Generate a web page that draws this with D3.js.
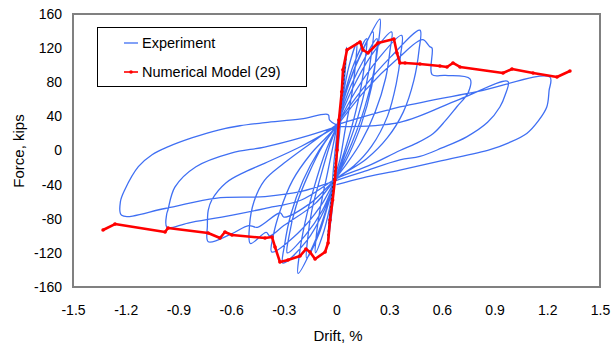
<!DOCTYPE html>
<html>
<head>
<meta charset="utf-8">
<script src="https://cdn.jsdelivr.net/npm/d3@7"></script>
<style>
  body { margin: 0; background: #fff; }
  text { font-family: "Liberation Sans", Arial, sans-serif; fill: #000; }
</style>
</head>
<body>
<svg id="chart" width="614" height="348"></svg>
<script>
// tick labels
const driftTicks = [-1.5, -1.2, -0.9, -0.6, -0.3, 0, 0.3, 0.6, 0.9, 1.2, 1.5];
const forceTicks = [-160, -120, -80, -40, 0, 40, 80, 120, 160];

// numerical model (29) envelope
const modelDrift = [-1.329, -1.261, -0.976, -0.959, -0.731, -0.663, -0.635, -0.595, -0.407, -0.367,
  -0.350, -0.322, -0.276, -0.208, -0.174, -0.151, -0.122, -0.065, -0.048, -0.037, -0.022, -0.009,
  0.003, 0.014, 0.030, 0.037, 0.060, 0.134, 0.151, 0.179, 0.236, 0.327, 0.344, 0.361, 0.390, 0.475,
  0.589, 0.629, 0.663, 0.703, 0.948, 0.999, 1.119, 1.255, 1.329];
const modelForce = [-93.2, -86.2, -95.5, -90.8, -96.7, -102.6, -95.5, -99.1, -102.6, -101.4,
  -113.1, -130.7, -128.4, -123.7, -115.5, -119.0, -127.2, -119.0, -108.4, -81.5, -58.0, -34.6,
  0.6, 35.8, 68.9, 94.6, 118.0, 127.2, 117.8, 114.3, 126.0, 130.7, 114.3, 102.6, 102.6, 101.4,
  99.1, 97.9, 102.6, 97.9, 90.8, 95.5, 90.8, 86.2, 93.2];

// experiment, one array of [drift, force] per cycle
const cycle1 = [[0, 0], [0.02, 45], [0.04, 90], [0.058, 121], [0.052, 100], [0.035, 60], [0.015, 15], [-0.01, -32],
  [-0.025, -70], [-0.04, -95], [-0.05, -110], [-0.045, -90], [-0.03, -55], [-0.015, -15], [0.0, 15]];
const cycle2 = [[0.0, 15], [0.03, 55], [0.07, 98], [0.115, 126], [0.11, 105], [0.09, 70], [0.05, 25], [0.02, -10],
  [-0.01, -32], [-0.04, -68], [-0.08, -100], [-0.12, -120], [-0.115, -100], [-0.09, -65], [-0.05, -25],
  [-0.02, 5], [0.0, 26]];
const cycle3 = [[0.0, 26], [0.04, 62], [0.1, 102], [0.172, 131], [0.165, 110], [0.14, 75], [0.1, 38], [0.05, 2],
  [0.0, -30], [-0.05, -65], [-0.1, -98], [-0.17, -126], [-0.165, -105], [-0.14, -70], [-0.09, -30],
  [-0.04, 5], [0.0, 27]];
const cycle4 = [[0.0, 27], [0.06, 72], [0.13, 110], [0.208, 139], [0.2, 115], [0.17, 78], [0.12, 38], [0.06, 2],
  [0.0, -31], [-0.06, -70], [-0.13, -110], [-0.219, -144], [-0.21, -120], [-0.18, -85], [-0.13, -45],
  [-0.06, 0], [0.0, 27]];
const cycle5 = [[0.0, 27], [0.07, 78], [0.16, 122], [0.247, 154], [0.24, 128], [0.21, 90], [0.16, 50], [0.09, 10],
  [0.0, -32], [-0.07, -70], [-0.17, -106], [-0.305, -132], [-0.295, -110], [-0.26, -75], [-0.19, -35],
  [-0.1, 0], [0.0, 28]];
const cycle6 = [[0.0, 28], [0.08, 75], [0.17, 112], [0.23, 131], [0.225, 110], [0.2, 75], [0.14, 30], [0.07, -5],
  [0.0, -32], [-0.08, -70], [-0.18, -100], [-0.28, -120], [-0.27, -100], [-0.23, -65], [-0.16, -28],
  [-0.08, 5], [0.0, 28]];
const cycle7 = [[0.0, 28], [0.09, 72], [0.2, 112], [0.314, 139], [0.305, 118], [0.28, 85], [0.22, 45], [0.14, 10],
  [0.06, -15], [0.0, -32], [-0.09, -65], [-0.22, -97], [-0.369, -119], [-0.36, -100], [-0.32, -70],
  [-0.25, -35], [-0.15, -5], [-0.06, 15], [0.0, 28]];
const cycle8 = [[0.0, 28], [0.11, 70], [0.24, 108], [0.371, 135], [0.365, 112], [0.34, 78], [0.29, 40], [0.2, 5],
  [0.1, -18], [0.0, -33], [-0.12, -62], [-0.3, -88], [-0.38, -100], [-0.4, -96], [-0.49, -109],
  [-0.495, -88], [-0.47, -60], [-0.41, -35], [-0.3, -15], [-0.15, 8], [0.0, 30]];
const cycle9 = [[0.0, 30], [0.14, 70], [0.31, 110], [0.475, 141], [0.47, 118], [0.44, 82], [0.38, 45], [0.29, 15],
  [0.17, -10], [0.0, -33], [-0.15, -62], [-0.3, -78], [-0.32, -73], [-0.45, -90], [-0.5, -88], [-0.6, -98],
  [-0.73, -107], [-0.735, -88], [-0.73, -70], [-0.71, -58], [-0.63, -38], [-0.52, -25], [-0.41, -15],
  [-0.2, 5], [0.0, 28]];
const cycle10 = [[0.0, 28], [0.17, 72], [0.35, 108], [0.49, 130], [0.53, 122], [0.544, 120], [0.544, 89],
  [0.62, 88], [0.76, 84], [0.75, 68], [0.684, 51], [0.62, 35], [0.551, 20], [0.45, 8], [0.361, 0],
  [0.18, -18], [0.0, -33], [-0.2, -58], [-0.41, -68], [-0.6, -76], [-0.845, -85], [-0.965, -90],
  [-0.967, -75], [-0.96, -70], [-0.92, -43], [-0.8, -19], [-0.6, -3], [-0.41, 4], [-0.2, 15], [0.0, 28]];
const cycle11 = [[0.0, 28], [0.36, 33], [0.7, 60], [0.976, 81], [0.96, 65], [0.93, 51], [0.86, 33], [0.741, 16],
  [0.6, 3], [0.475, -7], [0.361, -11], [0.15, -25], [0.0, -35], [-0.2, -48], [-0.407, -54], [-0.69, -56],
  [-0.976, -68], [-1.223, -76], [-1.23, -60], [-1.205, -46], [-1.128, -19], [-1.05, -5], [-0.957, 4.5],
  [-0.82, 15], [-0.673, 24], [-0.55, 29], [-0.407, 32.6], [-0.2, 37], [-0.047, 42], [-0.04, 36], [0.0, 30]];
const cycle12 = [[0.0, 30], [0.361, 51], [0.8, 69], [1.215, 86], [1.21, 70], [1.197, 51], [1.15, 35], [1.083, 20],
  [0.98, 9], [0.874, 1], [0.6, -12], [0.361, -23], [0.15, -32], [0.0, -40]];

// early elastic trace, mostly hidden under the model line
const elasticTrace = [[-0.05, -100], [-0.03, -60], [0.0, 0], [0.03, 60], [0.06, 120]];

const experiment = [].concat(cycle1, cycle2, cycle3, cycle4, cycle5, cycle6, cycle7, cycle8,
  cycle9, cycle10, cycle11, cycle12);
const model = modelDrift.map((d, i) => [d, modelForce[i]]);

const margin = { top: 14, right: 14, bottom: 61, left: 73 };
const width = 614 - margin.left - margin.right;
const height = 348 - margin.top - margin.bottom;

const svg = d3.select("#chart");
const g = svg.append("g").attr("transform", "translate(" + margin.left + "," + margin.top + ")");

const x = d3.scaleLinear().domain([-1.5, 1.5]).range([0, width]);
const y = d3.scaleLinear().domain([-160, 160]).range([height, 0]);

g.append("clipPath").attr("id", "plot-clip")
  .append("rect").attr("width", width).attr("height", height);

// axes (labels only, border drawn separately)
const xAxis = g.append("g")
  .attr("transform", "translate(0," + height + ")")
  .call(d3.axisBottom(x).tickValues(driftTicks).tickSize(0).tickPadding(18)
    .tickFormat(d => d === 0 ? "0" : d.toFixed(1)));
const yAxis = g.append("g")
  .call(d3.axisLeft(y).tickValues(forceTicks).tickSize(0).tickPadding(11)
    .tickFormat(d => String(d)));
[xAxis, yAxis].forEach(a => {
  a.select(".domain").remove();
  a.selectAll("text").style("font-size", "14px").style("font-family", '"Liberation Sans", Arial, sans-serif');
});

const line = d3.line().x(d => x(d[0])).y(d => y(d[1]));
const smooth = d3.line().curve(d3.curveCatmullRom.alpha(0.5)).x(d => x(d[0])).y(d => y(d[1]));

const plot = g.append("g").attr("clip-path", "url(#plot-clip)");

plot.append("path")
  .datum(experiment)
  .attr("d", smooth)
  .attr("fill", "none")
  .attr("stroke", "#3f6ff3")
  .attr("stroke-width", 1.3)
  .attr("stroke-linejoin", "round");

plot.append("path")
  .datum(elasticTrace)
  .attr("d", line)
  .attr("fill", "none")
  .attr("stroke", "#222")
  .attr("stroke-width", 1)
  .attr("stroke-dasharray", "2,2");

plot.append("path")
  .datum(model)
  .attr("d", line)
  .attr("fill", "none")
  .attr("stroke", "#ff0000")
  .attr("stroke-width", 2.6)
  .attr("stroke-linejoin", "round");

plot.selectAll(".model-pt")
  .data(model)
  .enter()
  .append("circle")
  .attr("cx", d => x(d[0]))
  .attr("cy", d => y(d[1]))
  .attr("r", 1.8)
  .attr("fill", "#ff0000");

// plot border
g.append("rect")
  .attr("width", width)
  .attr("height", height)
  .attr("fill", "none")
  .attr("stroke", "#808080")
  .attr("stroke-width", 2);

// axis titles
svg.append("text")
  .attr("transform", "translate(24,151) rotate(-90)")
  .attr("text-anchor", "middle")
  .style("font-size", "15px")
  .text("Force, kips");
svg.append("text")
  .attr("x", 338)
  .attr("y", 341)
  .attr("text-anchor", "middle")
  .style("font-size", "15px")
  .text("Drift, %");

// legend
const legend = svg.append("g");
legend.append("rect")
  .attr("x", 97.5).attr("y", 27.5)
  .attr("width", 209).attr("height", 59)
  .attr("fill", "#fff")
  .attr("stroke", "#000")
  .attr("stroke-width", 1);
legend.append("line")
  .attr("x1", 124).attr("x2", 138).attr("y1", 43).attr("y2", 43)
  .attr("stroke", "#3f6ff3").attr("stroke-width", 1.3);
legend.append("text").attr("x", 142).attr("y", 48).style("font-size", "14.5px").text("Experiment");
legend.append("line")
  .attr("x1", 124).attr("x2", 138).attr("y1", 72).attr("y2", 72)
  .attr("stroke", "#ff0000").attr("stroke-width", 1.6);
legend.append("circle").attr("cx", 131).attr("cy", 72).attr("r", 1.8).attr("fill", "#ff0000");
legend.append("text").attr("x", 142).attr("y", 77).style("font-size", "14.5px").text("Numerical Model (29)");
</script>
</body>
</html>
